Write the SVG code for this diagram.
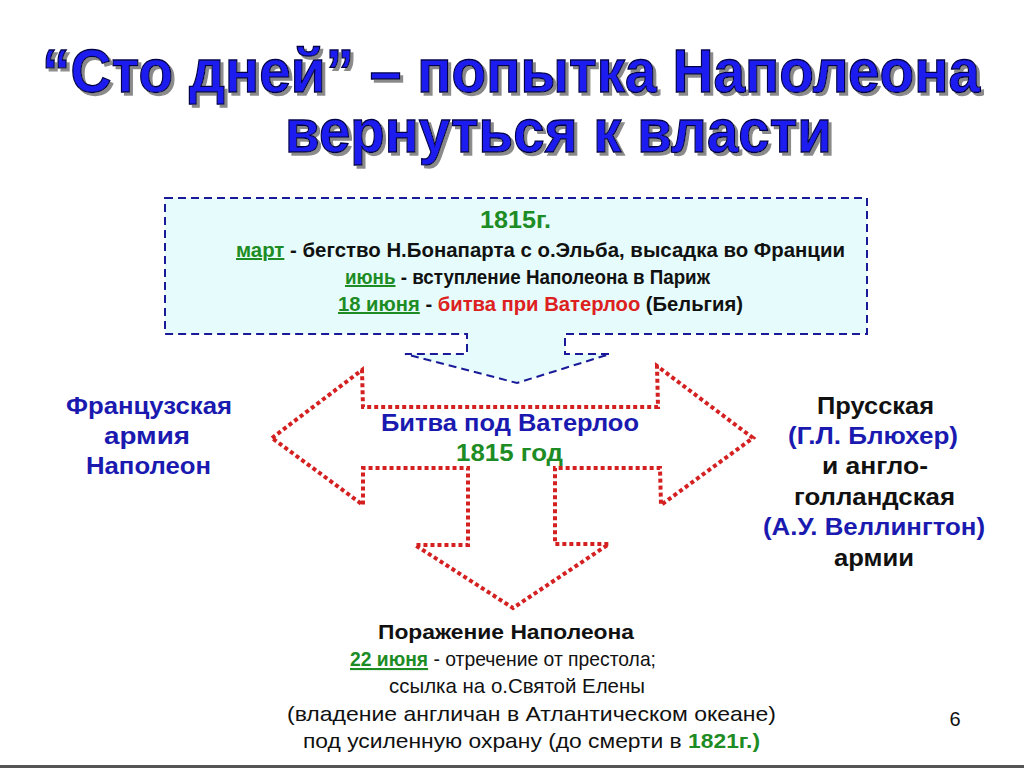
<svg xmlns="http://www.w3.org/2000/svg" width="1024" height="768" viewBox="0 0 1024 768">
<defs>
<filter id="shadow" filterUnits="userSpaceOnUse" x="0" y="0" width="1024" height="200">
<feFlood flood-color="#8a8a8a"/>
<feComposite in2="SourceAlpha" operator="in"/>
<feOffset dx="3" dy="3" result="sh"/>
<feMerge><feMergeNode in="sh"/><feMergeNode in="SourceGraphic"/></feMerge>
</filter>
</defs>
<style>
text{font-family:"Liberation Sans",Arial,sans-serif}
.t{font-size:61px;font-weight:bold;fill:#1e1ef0;stroke:#05054a;stroke-width:1.3}
.b{font-weight:bold}
.bx{font-size:20px;font-weight:bold;fill:#111}
.g{fill:#1e8c24}
.r{fill:#dd2020}
.bl{fill:#1a1ab0}
.k{fill:#111}
.u{text-decoration:underline}
.side{font-size:23px;font-weight:bold}
.bot{font-size:21px;fill:#111}
.red{fill:none;stroke:#d42020;stroke-width:4;stroke-dasharray:4 3}
</style>
<rect width="1024" height="768" fill="#ffffff"/>
<line x1="0" y1="766.5" x2="1024" y2="766.5" stroke="#555" stroke-width="3"/>
<g id="title" filter="url(#shadow)">
<text class="t" x="42" y="92" textLength="938" lengthAdjust="spacingAndGlyphs">“Сто дней” – попытка Наполеона</text>
<text class="t" x="285" y="152" textLength="547" lengthAdjust="spacingAndGlyphs">вернуться к власти</text>
</g>
<g id="connectors">
<path id="callout" d="M165,198 H867 V334 H565 V354 H610 L517,383 L405,354 H467 V334 H165 Z" fill="#e6fcfc" stroke="#1a1a99" stroke-width="2" stroke-dasharray="8 5"/>
<path id="arrows" class="red" d="M272,438 L362,370 L363,407 L658,407 L657,366 L753,438 L661,505 L660,468 L555,468 L555,544 L609,544 L513,608 L415,545 L468,545 L468,468 L363,468 L363,505 Z"/>
</g>
<g id="box-text">
<text class="bx g" x="480" y="228" style="font-size:23px" textLength="71" lengthAdjust="spacingAndGlyphs">1815г.</text>
<text class="bx" x="236" y="257" textLength="609" lengthAdjust="spacingAndGlyphs"><tspan class="g u">март</tspan> -  бегство Н.Бонапарта с о.Эльба, высадка  во Франции</text>
<text class="bx" x="345" y="284" textLength="365" lengthAdjust="spacingAndGlyphs"><tspan class="g u">июнь</tspan> - вступление Наполеона в Париж</text>
<text class="bx" x="338" y="311" textLength="405" lengthAdjust="spacingAndGlyphs"><tspan class="g u">18 июня</tspan> - <tspan class="r">битва при Ватерлоо</tspan> (Бельгия)</text>
</g>
<g id="battle">
<text class="side bl" x="381" y="431" textLength="258" lengthAdjust="spacingAndGlyphs">Битва под Ватерлоо</text>
<text class="side g" x="456" y="461" textLength="107" lengthAdjust="spacingAndGlyphs">1815 год</text>
</g>
<g id="french">
<text class="side bl" x="66" y="414" textLength="166" lengthAdjust="spacingAndGlyphs">Французская</text>
<text class="side bl" x="104" y="444" textLength="86" lengthAdjust="spacingAndGlyphs">армия</text>
<text class="side bl" x="86" y="474" textLength="125" lengthAdjust="spacingAndGlyphs">Наполеон</text>
</g>
<g id="allies">
<text class="side k" x="817" y="414" textLength="117" lengthAdjust="spacingAndGlyphs">Прусская</text>
<text class="side bl" x="788" y="444" textLength="170" lengthAdjust="spacingAndGlyphs">(Г.Л. Блюхер)</text>
<text class="side k" x="822" y="474" textLength="106" lengthAdjust="spacingAndGlyphs">и англо-</text>
<text class="side k" x="794" y="505" textLength="161" lengthAdjust="spacingAndGlyphs">голландская</text>
<text class="side bl" x="763" y="535" textLength="222" lengthAdjust="spacingAndGlyphs">(А.У. Веллингтон)</text>
<text class="side k" x="834" y="566" textLength="80" lengthAdjust="spacingAndGlyphs">армии</text>
</g>
<g id="defeat">
<text class="bot b bl" x="378" y="639" textLength="256" lengthAdjust="spacingAndGlyphs">Поражение Наполеона</text>
<text class="bot" x="350" y="666" textLength="306" lengthAdjust="spacingAndGlyphs"><tspan class="b g u">22 июня</tspan> - отречение от престола;</text>
<text class="bot" x="389" y="693" textLength="256" lengthAdjust="spacingAndGlyphs">ссылка на о.Святой Елены</text>
<text class="bot" x="287" y="721" textLength="489" lengthAdjust="spacingAndGlyphs">(владение англичан в Атлантическом океане)</text>
<text class="bot" x="303" y="748" textLength="457" lengthAdjust="spacingAndGlyphs">под усиленную охрану (до смерти в <tspan class="b g">1821г.)</tspan></text>
</g>
<text x="955" y="726" style="font-size:20px" text-anchor="middle" fill="#111">6</text>
</svg>
